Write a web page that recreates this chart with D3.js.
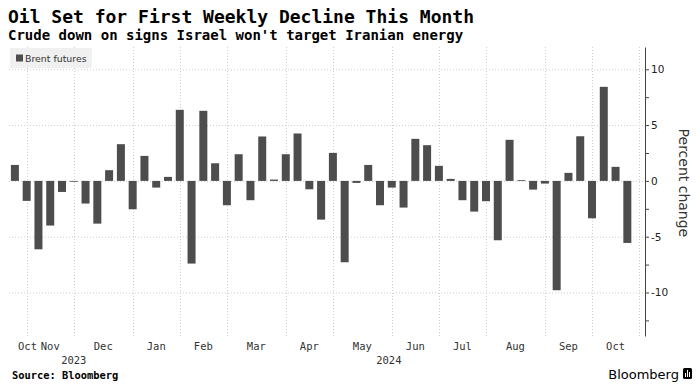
<!DOCTYPE html>
<html>
<head>
<meta charset="utf-8">
<script src="https://cdn.jsdelivr.net/npm/d3@7"></script>
<style>
  body { margin: 0; background: #fff; }
  svg { display: block; }
</style>
</head>
<body>
<svg id="chart" width="700" height="390"></svg>
<script>
// Brent futures, weekly % change (week ending Friday)
var weeks = [
  "2023-10-27", "2023-11-03", "2023-11-10", "2023-11-17", "2023-11-24",
  "2023-12-01", "2023-12-08", "2023-12-15", "2023-12-22", "2023-12-29",
  "2024-01-05", "2024-01-12", "2024-01-19", "2024-01-26",
  "2024-02-02", "2024-02-09", "2024-02-16", "2024-02-23",
  "2024-03-01", "2024-03-08", "2024-03-15", "2024-03-22", "2024-03-29",
  "2024-04-05", "2024-04-12", "2024-04-19", "2024-04-26",
  "2024-05-03", "2024-05-10", "2024-05-17", "2024-05-24", "2024-05-31",
  "2024-06-07", "2024-06-14", "2024-06-21", "2024-06-28",
  "2024-07-05", "2024-07-12", "2024-07-19", "2024-07-26",
  "2024-08-02", "2024-08-09", "2024-08-16", "2024-08-23", "2024-08-30",
  "2024-09-06", "2024-09-13", "2024-09-20", "2024-09-27",
  "2024-10-04", "2024-10-11", "2024-10-18", "2024-10-25"
];
var brentChange = [
  1.43, -1.79, -6.13, -4.0, -0.99, -0.05, -2.03, -3.83, 0.96, 3.29,
  -2.54, 2.24, -0.6, 0.36, 6.37, -7.41, 6.28, 1.58, -2.18, 2.39,
  -1.73, 3.98, 0.12, 2.39, 4.25, -0.75, -3.47, 2.51, -7.29, -0.18,
  1.43, -2.18, -0.6, -2.39, 3.77, 3.2, 1.35, 0.18, -1.73, -2.75,
  -1.82, -5.32, 3.68, 0.06, -0.78, -0.24, -9.8, 0.72, 4.0, -3.35,
  8.43, 1.26, -5.56
];
var yTicks = [-12.5, -10, -7.5, -5, -2.5, 0, 2.5, 5, 7.5, 10];
var yLabels = [-10, -5, 0, 5, 10];
var yDomain = [-13.9, 12];

var svg = d3.select("#chart");
var parseDate = d3.timeParse("%Y-%m-%d");
var dates = weeks.map(parseDate);
var data = dates.map((d, i) => ({date: d, value: brentChange[i]}));

var plotLeft = 9, plotRight = 645, plotTop = 47, plotBottom = 336;
var mono = "'DejaVu Sans Mono', monospace";
var sans = "'DejaVu Sans', Verdana, sans-serif";

var first = dates[0], last = dates[dates.length - 1];
var x = d3.scaleTime()
  .domain([d3.timeHour.offset(first, -84), d3.timeHour.offset(last, 7 * 24 + 84)])
  .range([plotLeft, plotRight]);
var y = d3.scaleLinear()
  .domain(yDomain)
  .range([plotBottom, plotTop]);

// first week of every month -> grid line
var monthStarts = dates.filter((d, i) => i > 0 && d.getMonth() != dates[i - 1].getMonth());
var nextWeek = d3.timeWeek.offset(last, 1);
if (nextWeek.getMonth() != last.getMonth()) monthStarts.push(nextWeek);

// grid
svg.append("g")
  .selectAll("line")
  .data(yLabels)
  .enter().append("line")
    .attr("x1", plotLeft).attr("x2", plotRight)
    .attr("y1", d => y(d) + 0.5).attr("y2", d => y(d) + 0.5)
    .attr("stroke", "#cfcfcf")
    .attr("stroke-dasharray", "1,2");

svg.append("g")
  .selectAll("line")
  .data(monthStarts)
  .enter().append("line")
    .attr("x1", d => Math.round(x(d)) + 0.5).attr("x2", d => Math.round(x(d)) + 0.5)
    .attr("y1", plotTop).attr("y2", plotBottom)
    .attr("stroke", "#cfcfcf")
    .attr("stroke-dasharray", "1,2");

// bars
var barW = 8;
svg.append("g")
  .selectAll("rect")
  .data(data)
  .enter().append("rect")
    .attr("x", d => x(d.date) - barW / 2)
    .attr("width", barW)
    .attr("y", d => y(Math.max(0, d.value)))
    .attr("height", d => Math.max(0.8, Math.abs(y(d.value) - y(0))))
    .attr("fill", "#4d4d4d");

// y axis on the right
var yAxis = svg.append("g")
  .attr("transform", `translate(${plotRight},0)`)
  .call(d3.axisRight(y)
    .tickValues(yTicks)
    .tickSize(4)
    .tickSizeOuter(0)
    .tickFormat(d => yLabels.includes(d) ? String(d) : ""));
yAxis.select(".domain").attr("stroke", "#444");
yAxis.selectAll(".tick line").attr("stroke", "#444");
yAxis.selectAll(".tick text")
  .attr("x", 6)
  .attr("font-family", sans)
  .attr("font-size", 10.5)
  .attr("fill", "#222");

svg.append("text")
  .attr("transform", `translate(679,${y(0) + 2}) rotate(90)`)
  .attr("text-anchor", "middle")
  .attr("font-family", sans)
  .attr("font-size", 14)
  .attr("fill", "#333")
  .text("Percent change");

// month labels between grid lines
var edges = [first].concat(monthStarts);
var fmtMonth = d3.timeFormat("%b");
var months = svg.append("g")
  .attr("font-family", mono)
  .attr("font-size", 10.5)
  .attr("fill", "#333")
  .attr("text-anchor", "middle");
edges.slice(0, -1).forEach(function(d, i) {
  var t = months.append("text")
    .attr("x", (x(d) + x(edges[i + 1])) / 2)
    .attr("y", 350)
    .text(fmtMonth(d));
  var w = t.node().getComputedTextLength();
  if (+t.attr("x") - w / 2 < plotLeft + 9) t.attr("x", plotLeft + 9 + w / 2);
});

// year labels
var yearStarts = dates.filter((d, i) => i > 0 && d.getFullYear() != dates[i - 1].getFullYear());
var yearEdges = [x(first)].concat(yearStarts.map(x), [plotRight]);
var years = [first].concat(yearStarts).map(d => d.getFullYear());
svg.append("g")
  .attr("font-family", mono)
  .attr("font-size", 10.5)
  .attr("fill", "#333")
  .attr("text-anchor", "middle")
  .selectAll("text")
  .data(years)
  .enter().append("text")
    .attr("x", (d, i) => (yearEdges[i] + yearEdges[i + 1]) / 2)
    .attr("y", 364)
    .text(d => d);

// legend
var legend = svg.append("g");
legend.append("rect")
  .attr("x", 10).attr("y", 48)
  .attr("width", 82).attr("height", 20)
  .attr("fill", "#f0f0f0");
legend.append("rect")
  .attr("x", 16).attr("y", 54.5)
  .attr("width", 7).attr("height", 7)
  .attr("fill", "#4d4d4d");
legend.append("text")
  .attr("x", 25).attr("y", 62)
  .attr("font-family", sans)
  .attr("font-size", 9.4)
  .attr("fill", "#333")
  .text("Brent futures");

// titles
svg.append("text")
  .attr("x", 8).attr("y", 23)
  .attr("font-family", mono)
  .attr("font-weight", "bold")
  .attr("font-size", 18)
  .attr("fill", "#000")
  .text("Oil Set for First Weekly Decline This Month");
svg.append("text")
  .attr("x", 8).attr("y", 40)
  .attr("font-family", mono)
  .attr("font-weight", "bold")
  .attr("font-size", 14)
  .attr("fill", "#000")
  .text("Crude down on signs Israel won't target Iranian energy");

// footer
svg.append("text")
  .attr("x", 12).attr("y", 379)
  .attr("font-family", mono)
  .attr("font-weight", "bold")
  .attr("font-size", 10.4)
  .attr("fill", "#000")
  .text("Source: Bloomberg");

var logo = svg.append("g");
logo.append("text")
  .attr("x", 679).attr("y", 379)
  .attr("text-anchor", "end")
  .attr("font-family", sans)
  .attr("font-size", 13)
  .attr("fill", "#000")
  .text("Bloomberg");
logo.append("rect")
  .attr("x", 683).attr("y", 368)
  .attr("width", 9).attr("height", 11)
  .attr("rx", 1.5)
  .attr("fill", "#000");
logo.selectAll("line")
  .data([685.5, 687.5, 689.5])
  .enter().append("line")
    .attr("x1", d => d).attr("x2", d => d)
    .attr("y1", (d, i) => [373, 370, 372][i]).attr("y2", 377)
    .attr("stroke", "#fff")
    .attr("stroke-width", 1);
</script>
</body>
</html>
